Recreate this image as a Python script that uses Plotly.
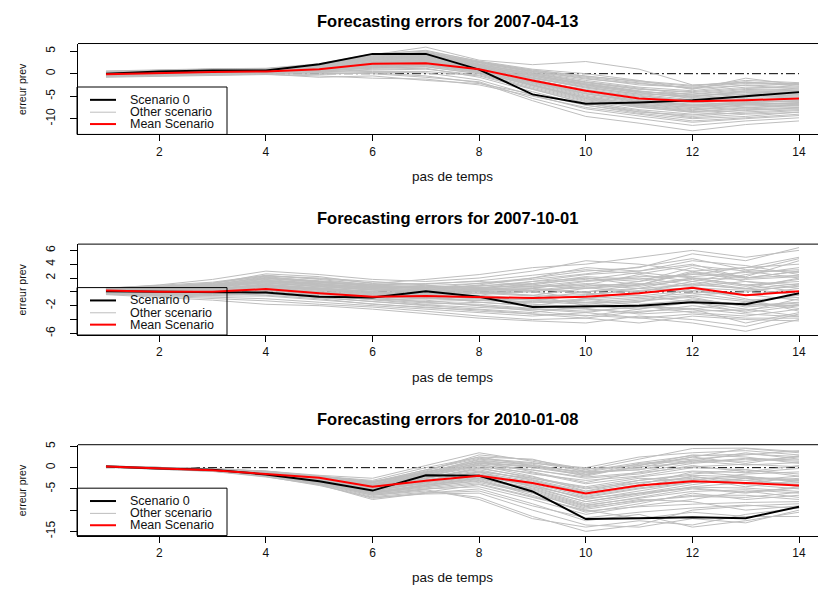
import plotly.graph_objects as go

# ---------------------------------------------------------------- data
steps = [1, 2, 3, 4, 5, 6, 7, 8, 9, 10, 11, 12, 13, 14]
x_ticks = [2, 4, 6, 8, 10, 12, 14]
dates = ["2007-04-13", "2007-10-01", "2010-01-08"]

# forecast run 2007-04-13
scen0_a = [0.0, 0.5, 0.7, 0.7, 2.1, 4.4, 4.4, 0.9, -4.6, -6.7, -6.4, -5.9, -5.0, -4.1]
mean_a = [-0.1, 0.2, 0.4, 0.5, 1.0, 2.2, 2.3, 1.0, -1.5, -3.8, -5.5, -6.1, -5.9, -5.5]
others_a = [
    [0.3, 0.6, 0.8, 0.9, 1.8, 3.9, 4.5, 2.2, 0.5, -1.0, -2.5, -3.0, -2.2, -2.5],
    [-0.2, 0.3, 0.5, 0.6, 1.2, 3.2, 3.8, 1.8, -0.5, -2.5, -4.0, -4.5, -3.5, -3.8],
    [0.5, 0.8, 1.0, 1.1, 2.0, 4.2, 5.9, 3.0, 2.0, 2.7, 1.0, -2.5, -2.0, -2.2],
    [-0.5, -0.3, 0.0, 0.2, 0.5, 1.5, 2.0, 0.5, -2.0, -4.5, -6.0, -7.0, -6.5, -6.0],
    [0.1, 0.4, 0.6, 0.7, 1.0, 2.5, 3.0, 1.2, -1.5, -3.5, -5.0, -6.0, -5.5, -5.2],
    [-0.8, -0.6, -0.4, -0.2, -0.5, -1.0, -1.2, -2.5, -5.0, -7.5, -9.0, -10.5, -9.8, -9.0],
    [0.4, 0.7, 0.9, 1.0, 1.5, 3.5, 4.0, 2.5, 0.8, -0.5, -1.8, -2.8, -1.5, -2.0],
    [-0.3, 0.0, 0.3, 0.4, 0.8, 2.0, 2.5, 0.8, -2.5, -5.5, -7.0, -8.0, -7.5, -7.0],
    [0.0, 0.2, 0.4, 0.5, 0.3, 0.5, 0.5, -0.5, -3.5, -6.5, -8.5, -9.5, -8.5, -8.0],
    [0.6, 0.9, 1.1, 1.2, 2.2, 4.4, 5.0, 2.8, 1.0, 0.0, -1.5, -3.5, -1.0, -2.5],
    [-0.6, -0.4, -0.2, 0.0, 0.0, 0.2, -0.5, -2.0, -6.0, -9.5, -11.0, -12.7, -11.3, -10.5],
    [0.2, 0.5, 0.7, 0.8, 1.4, 3.0, 3.5, 1.5, -1.0, -3.0, -4.5, -5.0, -4.0, -4.5],
    [-0.4, -0.1, 0.2, 0.3, 0.6, 1.2, 1.5, 0.0, -3.0, -6.0, -7.5, -8.5, -7.8, -7.5],
    [0.3, 0.6, 0.8, 0.9, 1.6, 3.6, 4.2, 2.0, 0.0, -2.0, -3.5, -4.0, -3.0, -3.2],
    [-0.1, 0.2, 0.4, 0.5, 0.9, 2.2, 2.8, 1.0, -2.0, -4.8, -6.5, -7.5, -7.0, -6.5],
    [0.0, 0.3, 0.5, 0.6, 1.1, 2.8, 3.3, 1.4, -1.2, -3.8, -5.5, -6.5, -6.0, -5.8],
    [-0.7, -0.5, -0.3, -0.1, -0.8, -0.5, -1.5, -2.2, -4.5, -7.0, -8.8, -10.0, -9.5, -8.5],
    [0.4, 0.7, 0.9, 1.0, 1.7, 3.8, 4.6, 2.4, 0.3, -1.5, -3.0, -3.8, -2.5, -3.0],
    [-0.2, 0.1, 0.3, 0.4, 0.7, 1.8, 2.2, 0.6, -2.2, -5.0, -6.8, -7.8, -7.2, -6.8],
    [0.1, 0.4, 0.6, 0.7, 1.3, 3.3, 3.9, 1.6, -0.8, -2.8, -4.2, -5.5, -5.0, -4.8],
    [-0.3, -0.1, 0.1, 0.3, 0.4, 0.8, 1.0, -0.3, -3.2, -6.2, -8.0, -9.0, -8.8, -8.2],
    [0.2, 0.5, 0.7, 0.8, 1.5, 3.4, 4.0, 2.0, 0.2, -1.8, -3.2, -4.8, -4.5, -4.0],
    [0.0, 0.3, 0.5, 0.6, 1.0, 2.4, 2.9, 1.1, -1.8, -4.2, -6.0, -7.0, -6.2, -6.2],
    [-0.5, -0.2, 0.0, 0.2, 0.2, 0.0, -0.8, -1.8, -5.5, -8.5, -10.0, -11.5, -10.5, -9.8],
    [0.5, 0.8, 1.0, 1.1, 1.9, 4.0, 4.8, 2.6, 0.5, -1.2, -2.2, -3.2, -1.8, -2.8],
    [-0.1, 0.2, 0.4, 0.5, 0.8, 1.6, 2.0, 0.3, -2.8, -5.8, -7.2, -8.2, -6.8, -7.2],
    [0.1, 0.4, 0.6, 0.7, 1.2, 2.6, 3.2, 1.3, -1.0, -3.2, -4.8, -6.2, -5.8, -5.5],
    [-0.4, -0.2, 0.0, 0.1, 0.3, 1.0, 1.2, -0.8, -4.0, -7.0, -8.5, -9.2, -8.0, -7.8],
    [0.3, 0.6, 0.8, 0.9, 1.4, 3.1, 3.6, 1.7, -0.3, -2.2, -3.8, -5.2, -3.8, -4.2],
    [-0.2, 0.1, 0.3, 0.4, 0.6, 1.4, 1.8, 0.2, -2.5, -5.2, -6.8, -7.5, -6.5, -6.8],
    [0.2, 0.5, 0.7, 0.8, 1.6, 3.7, 4.3, 2.1, -0.2, -2.3, -3.9, -5.0, -4.2, -4.4],
    [-0.1, 0.2, 0.4, 0.5, 1.0, 2.7, 3.1, 1.2, -1.4, -3.6, -5.2, -6.3, -5.8, -5.6],
    [0.4, 0.7, 0.9, 1.0, 1.8, 4.1, 4.7, 2.5, 0.6, -0.8, -2.0, -3.3, -2.6, -3.4],
    [-0.3, 0.0, 0.2, 0.3, 0.7, 1.9, 2.4, 0.7, -2.4, -5.3, -7.1, -8.4, -7.6, -7.1],
    [0.0, 0.3, 0.5, 0.6, 1.2, 3.0, 3.4, 1.5, -0.9, -3.0, -4.6, -5.8, -5.2, -5.0],
    [-0.6, -0.4, -0.2, 0.0, -0.2, 0.3, 0.2, -1.4, -4.8, -7.8, -9.4, -10.8, -10.0, -9.3],
    [0.3, 0.6, 0.8, 0.9, 1.5, 3.5, 4.1, 2.0, 0.1, -1.9, -3.4, -4.2, -3.3, -3.6],
    [0.1, 0.4, 0.6, 0.7, 1.1, 2.5, 3.0, 1.1, -1.6, -4.0, -5.8, -6.8, -6.4, -6.0],
    [-0.2, 0.1, 0.3, 0.4, 0.8, 1.7, 2.1, 0.4, -2.6, -5.6, -7.4, -8.6, -8.2, -7.6],
    [0.5, 0.8, 1.0, 1.1, 2.0, 4.3, 5.2, 2.7, 0.8, -0.6, -1.6, -2.6, -1.9, -2.4],
    [0.2, 0.5, 0.7, 0.8, 1.3, 3.2, 3.7, 1.8, -0.6, -2.6, -4.3, -5.3, -4.6, -4.6],
    [-0.4, -0.1, 0.1, 0.2, 0.5, 1.3, 1.6, 0.0, -3.4, -6.6, -8.2, -9.8, -9.0, -8.6],
    [0.0, 0.3, 0.5, 0.6, 0.9, 2.1, 2.6, 0.9, -1.9, -4.5, -6.2, -7.2, -6.8, -6.4],
    [0.1, 0.4, 0.6, 0.7, 1.4, 3.3, 3.8, 1.7, -0.4, -2.4, -4.0, -4.6, -3.8, -3.9],
    [-0.1, 0.2, 0.4, 0.5, 0.9, 2.3, 2.7, 0.9, -1.7, -4.4, -6.4, -7.2, -6.6, -6.6],
]

# forecast run 2007-10-01
scen0_b = [0.1, 0.0, 0.0, -0.1, -0.7, -0.8, 0.1, -0.7, -2.2, -2.1, -2.0, -1.5, -1.8, -0.2]
mean_b = [0.2, 0.0, 0.0, 0.4, -0.2, -0.7, -0.6, -0.7, -0.9, -0.7, -0.2, 0.6, -0.5, 0.1]
others_b = [
    [0.5, 1.0, 1.8, 3.0, 2.5, 1.8, 1.5, 2.0, 3.0, 4.5, 4.0, 3.0, 3.5, 4.0],
    [0.2, 0.5, 1.0, 2.2, 1.5, 0.8, 0.5, 1.2, 2.0, 3.0, 3.5, 5.5, 4.5, 6.4],
    [-0.3, -0.5, -0.8, -1.0, -1.5, -2.0, -2.5, -3.0, -3.5, -3.0, -3.8, -4.5, -5.7, -4.0],
    [0.4, 0.6, 0.8, 1.5, 1.0, 0.5, 0.8, 0.5, 1.5, 2.5, 3.0, 4.0, 2.0, 3.0],
    [0.0, 0.2, 0.5, 1.0, 0.5, 0.0, -0.5, -1.0, -1.5, -1.0, 0.0, 1.5, 0.5, 2.0],
    [0.3, 0.4, 0.6, 2.0, 1.5, 1.0, 1.2, 1.5, 1.0, 0.5, 1.5, 2.5, 3.5, 5.0],
    [-0.2, -0.4, -0.2, 0.5, 0.0, -0.8, -1.5, -2.0, -2.8, -3.5, -2.5, -1.5, -3.0, -2.0],
    [0.6, 0.8, 1.2, 2.3, 2.0, 1.5, 1.0, 0.0, -0.5, 0.5, 1.0, 3.0, 1.5, 1.0],
    [0.1, 0.0, 0.3, 1.2, 0.8, 0.3, 0.0, 0.5, 0.0, -1.0, -2.0, -2.5, -1.5, -0.5],
    [-0.4, -0.8, -1.2, -1.8, -2.0, -2.5, -3.2, -3.8, -4.2, -4.5, -3.5, -4.0, -5.0, -3.2],
    [0.3, 0.2, 0.5, 0.8, 0.3, -0.3, -0.8, -0.5, 0.5, 1.5, 2.0, 1.0, 2.5, 3.5],
    [0.0, -0.2, 0.0, 0.3, -0.5, -1.2, -1.8, -1.5, -2.0, -2.5, -3.0, -2.0, -2.8, -1.0],
    [0.5, 0.7, 1.0, 1.8, 1.2, 0.6, 0.3, 1.0, 2.0, 3.5, 3.0, 4.5, 3.8, 2.5],
    [-0.1, -0.3, -0.5, -0.2, -0.8, -1.5, -2.0, -2.5, -3.0, -2.0, -1.5, 0.5, -1.0, -2.8],
    [0.2, 0.3, 0.6, 1.3, 0.7, 0.2, -0.2, -0.5, -1.0, 0.0, 0.5, 2.0, 1.0, 0.0],
    [0.4, 0.5, 0.9, 1.6, 1.3, 0.9, 0.6, 0.3, 0.8, 1.0, 2.5, 1.5, 3.0, 2.0],
    [-0.3, -0.6, -1.0, -1.3, -1.8, -2.2, -2.8, -3.5, -4.0, -3.8, -4.5, -3.5, -4.0, -4.2],
    [0.1, 0.1, 0.2, 0.6, 0.1, -0.5, -1.0, -1.2, -1.0, -1.5, -1.0, -0.5, 0.0, 1.0],
    [0.3, 0.6, 1.2, 2.6, 2.2, 1.2, 1.8, 2.5, 3.5, 4.0, 5.0, 6.0, 5.0, 6.0],
    [0.0, 0.1, 0.4, 0.9, 0.4, -0.2, -0.3, 0.0, -0.5, -2.0, -2.5, -1.0, -2.0, -1.5],
    [-0.2, -0.3, -0.4, 0.2, -0.3, -1.0, -1.2, -2.0, -2.5, -3.0, -2.0, -3.0, -3.5, -2.5],
    [0.5, 0.9, 1.4, 2.4, 1.8, 1.0, 0.7, 0.8, 1.5, 2.0, 1.0, 2.0, 1.0, 1.5],
    [0.2, 0.3, 0.5, 1.1, 0.6, 0.0, -0.6, -1.5, -2.0, -1.0, -0.5, -1.5, -2.5, -3.5],
    [-0.1, -0.2, 0.0, 0.4, -0.2, -0.8, -1.0, -0.8, -1.2, -0.5, 0.5, 0.0, -0.5, 0.5],
    [0.3, 0.4, 0.7, 1.4, 0.9, 0.4, 0.2, 0.6, 1.0, 2.0, 1.5, 3.5, 2.0, 3.0],
    [0.1, 0.0, -0.2, -0.5, -1.0, -1.8, -2.2, -2.8, -3.2, -3.8, -2.8, -2.5, -4.5, -3.0],
    [0.4, 0.7, 1.1, 2.0, 1.4, 0.8, 0.4, 0.0, 0.2, 1.0, 0.5, 1.0, 0.5, -0.5],
    [-0.1, -0.1, 0.1, 0.7, 0.2, -0.4, -0.6, -1.0, -1.8, -2.2, -1.8, -1.2, -1.8, -2.0],
    [0.2, 0.4, 0.8, 1.7, 1.0, 0.5, 0.0, 0.2, 0.5, 0.0, 1.0, 2.8, 2.2, 4.5],
    [0.0, -0.1, 0.2, 0.5, 0.0, -0.6, -0.4, -0.2, 0.0, 0.8, 1.2, 0.8, 1.5, 0.5],
    [0.3, 0.5, 0.9, 1.9, 1.4, 0.8, 0.6, 0.9, 1.2, 2.2, 1.8, 2.6, 2.0, 2.4],
    [-0.2, -0.3, -0.3, 0.1, -0.6, -1.1, -1.6, -1.8, -2.4, -2.8, -2.2, -2.4, -3.2, -3.6],
    [0.1, 0.2, 0.4, 1.0, 0.6, 0.1, 0.2, 0.4, 0.6, 1.2, 0.8, 1.8, 0.8, 1.8],
    [0.4, 0.6, 1.0, 2.1, 1.6, 1.1, 0.9, 1.2, 1.8, 2.6, 3.6, 4.8, 3.2, 2.8],
    [0.0, -0.1, 0.1, 0.6, 0.0, -0.7, -0.9, -1.3, -1.6, -1.2, -0.8, -0.2, -1.2, -0.8],
    [0.2, 0.3, 0.6, 1.5, 1.1, 0.6, 0.2, -0.2, -0.6, -0.4, 0.2, 0.6, 0.2, 0.8],
    [-0.3, -0.5, -0.6, -0.6, -1.2, -1.7, -2.3, -2.6, -3.2, -3.4, -3.8, -3.2, -3.8, -3.8],
    [0.3, 0.5, 0.8, 1.6, 1.2, 0.7, 0.5, 0.6, 0.8, 1.6, 2.2, 2.2, 2.8, 3.2],
    [0.1, 0.1, 0.3, 0.8, 0.3, -0.3, -0.2, 0.2, 0.4, -0.2, -0.6, 0.2, -0.4, -1.2],
    [-0.1, -0.2, -0.1, 0.3, -0.4, -1.0, -1.4, -1.2, -1.4, -1.8, -1.2, -0.8, -2.2, -1.6],
    [0.5, 0.8, 1.3, 2.3, 1.9, 1.3, 1.1, 1.6, 2.4, 3.2, 2.6, 3.8, 3.0, 4.8],
    [0.2, 0.2, 0.4, 1.0, 0.5, 0.0, -0.4, -0.8, -1.2, -1.6, -1.4, -0.6, -1.4, -2.4],
    [0.0, 0.0, 0.3, 0.9, 0.4, -0.1, 0.1, 0.3, 0.2, 0.6, 0.0, 1.2, 0.4, 1.2],
    [-0.2, -0.4, -0.5, -0.3, -0.9, -1.4, -1.9, -2.2, -2.6, -2.4, -3.2, -2.8, -2.6, -1.8],
    [0.3, 0.4, 0.7, 1.3, 0.8, 0.3, 0.0, 0.4, 1.2, 1.8, 2.8, 2.0, 1.8, 2.2],
]

# forecast run 2010-01-08
scen0_c = [0.3, -0.2, -0.5, -1.6, -3.2, -5.4, -1.8, -1.9, -5.6, -12.1, -11.9, -11.7, -11.9, -9.2]
mean_c = [0.3, -0.1, -0.6, -1.5, -2.4, -4.5, -3.1, -1.9, -3.6, -6.1, -4.2, -3.2, -3.6, -4.2]
others_c = [
    [0.4, 0.0, -0.3, -0.8, -1.8, -2.5, 0.5, 3.5, 1.5, -0.5, 2.0, 4.5, 4.6, 3.8],
    [0.3, -0.1, -0.5, -1.2, -2.5, -4.0, -1.0, 1.5, -1.0, -3.5, -1.0, 1.0, 2.0, 1.5],
    [0.2, -0.2, -0.6, -1.5, -3.0, -5.0, -3.0, -1.0, -4.5, -8.0, -6.0, -4.0, -2.5, -3.0],
    [0.4, 0.0, -0.4, -1.0, -2.2, -3.5, -0.5, 2.5, 0.5, -2.0, 0.5, 2.5, 1.0, 2.8],
    [0.1, -0.3, -0.8, -2.0, -3.5, -6.0, -4.5, -3.0, -6.5, -10.5, -8.5, -6.0, -7.5, -6.5],
    [0.3, -0.1, -0.4, -1.3, -2.8, -4.5, -2.0, 0.5, -2.0, -5.5, -3.0, -1.5, -0.5, -2.0],
    [0.2, -0.3, -0.7, -1.8, -3.8, -6.5, -5.5, -7.0, -11.5, -15.0, -13.5, -10.0, -9.0, -8.5],
    [0.4, 0.0, -0.2, -0.8, -2.0, -3.0, 0.0, 2.5, 2.0, -1.0, -0.5, 1.5, 3.5, 2.0],
    [0.3, -0.2, -0.5, -1.5, -3.2, -5.5, -3.5, -1.5, -3.5, -6.5, -4.5, -2.0, -4.0, -5.0],
    [0.1, -0.4, -0.9, -2.2, -4.0, -7.5, -6.0, -5.0, -8.5, -12.5, -11.0, -14.0, -12.5, -10.5],
    [0.3, -0.1, -0.4, -1.1, -2.4, -3.8, -1.5, 1.0, -0.5, -2.5, -1.5, 0.5, -1.0, 0.5],
    [0.2, -0.2, -0.6, -1.6, -3.3, -5.8, -4.0, -2.5, -5.5, -9.0, -7.0, -5.0, -6.0, -4.5],
    [0.4, 0.0, -0.3, -0.9, -2.1, -3.2, -1.2, 2.0, 1.0, 0.0, 2.5, 3.5, 4.0, 3.0],
    [0.2, -0.3, -0.7, -1.9, -3.6, -6.2, -5.0, -4.5, -7.5, -11.0, -9.0, -7.5, -5.5, -7.0],
    [0.3, -0.1, -0.5, -1.4, -3.0, -4.8, -2.5, 0.0, -2.5, -4.5, -2.5, -3.0, -1.5, -1.0],
    [0.1, -0.4, -0.8, -2.1, -4.2, -7.0, -6.2, -6.0, -10.0, -13.5, -14.0, -12.0, -13.0, -10.0],
    [0.4, -0.1, -0.4, -1.2, -2.6, -4.2, -1.8, 1.2, 0.0, -1.8, 1.0, 2.0, 3.0, 4.0],
    [0.3, -0.2, -0.5, -1.4, -2.9, -5.2, -3.2, -2.0, -4.0, -7.5, -5.5, -3.5, -3.0, -4.0],
    [0.2, -0.2, -0.6, -1.7, -3.4, -6.0, -4.8, -3.5, -6.0, -9.5, -7.5, -8.0, -10.0, -9.0],
    [0.4, 0.0, -0.3, -1.0, -2.3, -3.6, -0.8, 3.0, 1.8, -0.3, 0.5, 3.0, 2.5, 1.0],
    [0.2, -0.3, -0.6, -1.6, -3.1, -5.3, -3.8, -2.2, -5.0, -8.5, -6.5, -4.5, -3.5, -2.5],
    [0.3, -0.1, -0.4, -1.2, -2.7, -4.4, -2.2, -0.5, -3.0, -6.0, -4.0, -1.0, -2.0, -3.5],
    [0.1, -0.4, -0.8, -2.0, -3.9, -6.8, -5.8, -4.0, -7.0, -10.0, -12.0, -10.5, -11.5, -11.5],
    [0.4, 0.0, -0.3, -0.9, -2.0, -3.4, -1.0, 1.8, 0.5, -1.2, -0.5, 1.8, 1.5, 2.5],
    [0.3, -0.2, -0.5, -1.4, -3.0, -5.0, -3.0, -1.0, -2.5, -5.0, -3.5, -2.5, -4.5, -3.0],
    [0.2, -0.2, -0.6, -1.7, -3.5, -6.0, -4.2, -2.8, -6.0, -9.8, -8.0, -6.5, -6.5, -7.5],
    [0.3, -0.1, -0.4, -1.3, -2.6, -4.0, -1.5, 1.5, 0.8, -1.5, 0.0, 2.5, 4.5, 3.5],
    [0.2, -0.3, -0.7, -1.8, -3.7, -6.5, -5.2, -7.5, -12.0, -14.0, -12.5, -13.5, -11.0, -9.5],
    [0.4, 0.0, -0.4, -1.1, -2.4, -3.9, -2.0, 0.8, -1.5, -3.0, -2.0, 0.0, -0.5, -1.5],
    [0.3, -0.1, -0.5, -1.5, -3.1, -5.5, -3.5, -1.8, -4.5, -7.0, -5.0, -3.5, -2.5, -4.5],
    [0.3, -0.1, -0.5, -1.3, -2.8, -4.6, -2.6, -0.2, -2.2, -4.8, -3.0, -1.8, -2.2, -2.8],
    [0.2, -0.2, -0.6, -1.6, -3.3, -5.7, -4.2, -2.6, -5.2, -8.8, -7.2, -5.6, -5.2, -6.0],
    [0.4, 0.0, -0.3, -1.0, -2.2, -3.6, -1.2, 1.4, 0.2, -1.6, 0.2, 1.2, 2.2, 1.8],
    [0.2, -0.3, -0.7, -1.8, -3.6, -6.3, -5.0, -3.8, -6.8, -10.2, -9.2, -8.6, -8.2, -8.0],
    [0.3, -0.1, -0.4, -1.2, -2.6, -4.2, -2.0, 0.2, -1.2, -3.8, -2.2, -0.8, -1.2, -0.2],
    [0.3, -0.2, -0.5, -1.4, -3.0, -5.1, -3.4, -1.6, -3.8, -6.8, -4.8, -3.2, -3.6, -3.6],
    [0.1, -0.4, -0.8, -2.0, -4.0, -7.2, -6.0, -5.5, -9.0, -11.8, -10.5, -9.5, -8.8, -9.6],
    [0.4, 0.0, -0.3, -0.9, -2.0, -3.3, -0.6, 2.2, 1.2, -0.8, 1.2, 2.8, 3.2, 2.6],
    [0.2, -0.2, -0.6, -1.5, -3.2, -5.4, -3.6, -2.0, -4.2, -7.2, -6.0, -4.6, -4.8, -5.6],
    [0.3, -0.1, -0.5, -1.3, -2.7, -4.4, -2.4, -0.8, -2.8, -5.6, -3.6, -2.2, -3.0, -2.0],
    [0.2, -0.3, -0.6, -1.7, -3.5, -5.9, -4.4, -3.2, -5.8, -9.2, -7.8, -6.8, -7.0, -5.8],
    [0.4, 0.0, -0.3, -1.0, -2.1, -3.4, -1.4, 1.0, 0.4, -1.0, 0.8, 1.6, 0.6, 1.2],
    [0.3, -0.1, -0.5, -1.4, -2.9, -4.9, -2.8, -1.2, -3.2, -5.8, -4.2, -2.8, -2.2, -3.2],
    [0.2, -0.2, -0.6, -1.6, -3.4, -5.7, -4.0, -2.4, -4.8, -8.0, -6.2, -4.8, -5.8, -4.8],
    [0.3, -0.1, -0.4, -1.2, -2.5, -4.1, -1.6, 0.6, -0.6, -2.2, -1.2, 0.2, 0.8, 0.2],
]

# y axis ticks per panel (labels that would collide are left blank)
yticks_a = [-10, -5, 0, 5]
ylabels_a = ["-10", "-5", "0", "5"]
yticks_b = [-6, -4, -2, 0, 2, 4, 6]
ylabels_b = ["-6", "", "-2", "", "2", "4", "6"]
yticks_c = [-15, -10, -5, 0, 5]
ylabels_c = ["-15", "", "-5", "0", "5"]

legend_labels = ["Scenario 0", "Other scenario", "Mean Scenario"]

# ---------------------------------------------------------------- layout constants
W, H = 818, 590
FONT = "Liberation Sans, Arial, sans-serif"
GREY, BLACK, RED = "#bebebe", "#000000", "#ff0000"

PLOT_L = 78
tops = [40, 243, 446]
bottoms = [132, 335, 538]
title_y = [17, 217, 420]
xlab_y = [175, 378, 580]
y_ranges = [[-13.5, 6.7], [-6.24, 6.9], [-16.0, 5.4]]
x_range = [0.475, 14.356]


def px(x):
    return x / W


def py(y):
    return 1 - y / H


panels = [
    (dates[0], scen0_a, mean_a, others_a, yticks_a, ylabels_a),
    (dates[1], scen0_b, mean_b, others_b, yticks_b, ylabels_b),
    (dates[2], scen0_c, mean_c, others_c, yticks_c, ylabels_c),
]

fig = go.Figure()
shapes, annotations = [], []

for i, (date, scen0, mean, others, yt, yl) in enumerate(panels):
    n = "" if i == 0 else str(i + 1)
    xa, ya = "x" + n, "y" + n

    # reference line at zero, drawn first so the scenarios lie over it
    fig.add_trace(go.Scatter(
        x=steps, y=[0] * len(steps), xaxis=xa, yaxis=ya, mode="lines",
        line=dict(color=BLACK, width=1, dash="9px,3px,2px,3px"),
        showlegend=False, hoverinfo="skip"))
    for s in others:
        fig.add_trace(go.Scatter(
            x=steps, y=s, xaxis=xa, yaxis=ya, mode="lines",
            line=dict(color=GREY, width=1), showlegend=False))
    fig.add_trace(go.Scatter(
        x=steps, y=scen0, xaxis=xa, yaxis=ya, mode="lines",
        line=dict(color=BLACK, width=2), showlegend=False))
    fig.add_trace(go.Scatter(
        x=steps, y=mean, xaxis=xa, yaxis=ya, mode="lines",
        line=dict(color=RED, width=2), showlegend=False))

    dom_y = [py(bottoms[i]), py(tops[i])]
    fig.layout["xaxis" + n] = dict(
        domain=[px(PLOT_L), 1.0], range=x_range, anchor=ya,
        tickmode="array", tickvals=x_ticks, ticktext=[str(v) for v in x_ticks],
        ticks="outside", ticklen=6, tickwidth=1, tickcolor=BLACK,
        showline=True, linecolor=BLACK, linewidth=1,
        showgrid=False, zeroline=False,
        tickfont=dict(family=FONT, size=12, color="#111"))
    fig.layout["yaxis" + n] = dict(
        domain=dom_y, range=y_ranges[i], anchor=xa,
        tickmode="array", tickvals=yt, ticktext=yl, tickangle=-90,
        ticks="outside", ticklen=7, tickwidth=1, tickcolor=BLACK,
        showline=True, linecolor=BLACK, linewidth=1,
        showgrid=False, zeroline=False, ticklabelstandoff=10,
        tickfont=dict(family=FONT, size=12, color="#111"))

    # top edge of the box
    shapes.append(dict(type="line", xref="paper", yref="paper",
                       x0=px(PLOT_L), x1=1.0, y0=py(tops[i]), y1=py(tops[i]),
                       line=dict(color=BLACK, width=1)))

    # titles
    annotations.append(dict(
        text="<b>Forecasting errors for %s</b>" % date, xref="paper", yref="paper",
        x=px(447), y=py(title_y[i]), xanchor="center", yanchor="middle",
        showarrow=False, font=dict(family=FONT, size=16.5, color=BLACK)))
    annotations.append(dict(
        text="pas de temps", xref="paper", yref="paper",
        x=px(452), y=py(xlab_y[i]), xanchor="center", yanchor="middle",
        showarrow=False, font=dict(family=FONT, size=13.5, color="#111")))
    annotations.append(dict(
        text="erreur prev", xref="paper", yref="paper", textangle=-90,
        x=px(22), y=py((tops[i] + bottoms[i]) / 2), xanchor="center", yanchor="middle",
        showarrow=False, font=dict(family=FONT, size=10.5, color="#111")))

    # legend box in the lower left corner of each panel
    b = bottoms[i]
    shapes.append(dict(type="rect", xref="paper", yref="paper",
                       x0=px(77), x1=px(227), y0=py(b), y1=py(b - 48),
                       line=dict(color=BLACK, width=1), fillcolor="rgba(0,0,0,0)"))
    for label, color, width, off in zip(legend_labels, [BLACK, GREY, RED],
                                        [2, 1, 2], [35, 22.5, 10.5]):
        yy = py(b - off)
        shapes.append(dict(type="line", xref="paper", yref="paper",
                           x0=px(90), x1=px(116), y0=yy, y1=yy,
                           line=dict(color=color, width=width)))
        annotations.append(dict(
            text=label, xref="paper", yref="paper", x=px(128), y=yy,
            xanchor="left", yanchor="middle", showarrow=False,
            font=dict(family=FONT, size=12.5, color="#111")))

fig.update_layout(
    width=W, height=H, margin=dict(l=0, r=0, t=0, b=0),
    paper_bgcolor="white", plot_bgcolor="white",
    showlegend=False, shapes=shapes, annotations=annotations,
)

fig.write_html("out.html")
